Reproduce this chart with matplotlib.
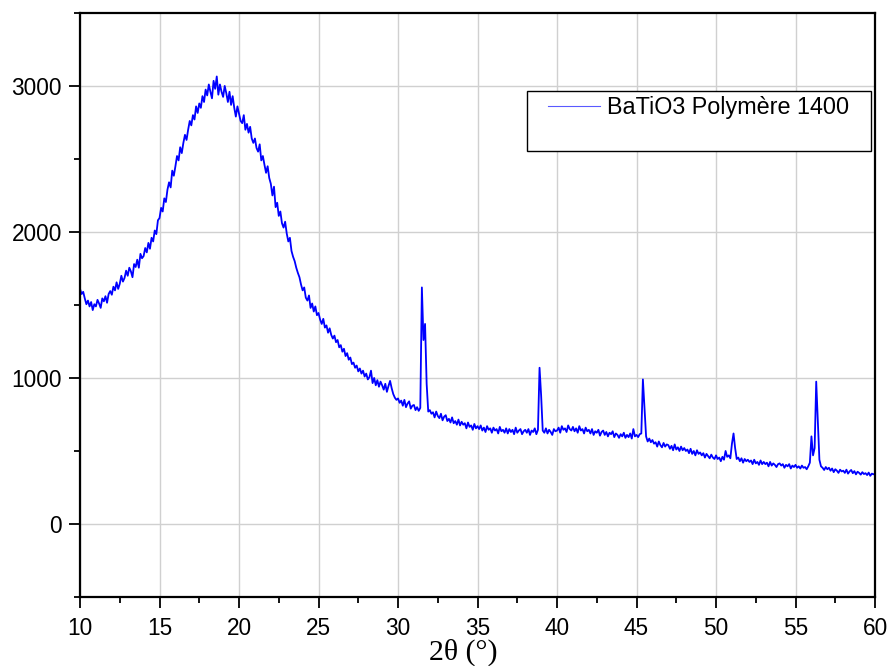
import numpy as np
import matplotlib.pyplot as plt
from matplotlib.patches import Rectangle
from matplotlib.ticker import MultipleLocator

# 2theta scan grid, 10 -> 60 deg, step 0.1
two_theta = np.round(np.arange(100, 601) / 10.0, 1)

# intensity, one row per degree (x.0 ... x.9)
counts_10_19 = [
    1610, 1575, 1590, 1545, 1505, 1530, 1490, 1520, 1465, 1505,
    1490, 1535, 1510, 1480, 1545, 1525, 1560, 1515, 1575, 1595,
    1570, 1625, 1600, 1655, 1610, 1645, 1700, 1660, 1685, 1735,
    1700, 1755, 1730, 1690, 1780, 1760, 1810, 1755, 1850, 1820,
    1835, 1890, 1860, 1925, 1885, 1960, 1935, 2010, 1985, 2080,
    2095, 2165, 2140, 2230, 2205, 2290, 2340, 2305, 2420, 2385,
    2450, 2520, 2490, 2580, 2540, 2610, 2665, 2630, 2700, 2760,
    2730, 2800, 2770, 2860, 2815, 2880, 2850, 2930, 2890, 2975,
    2935, 3010, 2960, 2915, 3035, 2980, 3065, 2940, 3010, 2960,
    2925, 3000, 2950, 2890, 2960, 2870, 2930, 2850, 2790, 2860,
]
counts_20_29 = [
    2810, 2760, 2745, 2800, 2700, 2740, 2680, 2720, 2640, 2610,
    2640, 2575, 2550, 2600, 2490, 2520, 2460, 2405, 2450, 2370,
    2330, 2250, 2310, 2170, 2200, 2110, 2140, 2060, 2030, 2070,
    1990, 1935, 1960, 1870, 1830, 1800, 1755, 1720, 1690, 1640,
    1600, 1620, 1550, 1530, 1565, 1480, 1510, 1455, 1490, 1430,
    1445, 1400, 1370, 1405, 1345, 1360, 1310, 1340, 1295, 1270,
    1290, 1245, 1260, 1210, 1225, 1180, 1200, 1150, 1170, 1125,
    1140, 1095, 1105, 1070, 1085, 1045, 1065, 1030, 1050, 1010,
    1030, 990, 1005, 1050, 965, 1000, 950, 985, 940, 975,
    950, 920, 960, 905, 945, 980, 930, 890, 865, 850,
]
counts_30_39 = [
    860, 830, 845, 810, 850, 800, 825, 840, 790, 810,
    815, 780, 800, 775, 795, 1620, 1260, 1370, 960, 770,
    780, 755, 765, 730, 770, 740, 725, 755, 710, 735,
    745, 705, 720, 695, 730, 690, 705, 680, 715, 675,
    700, 680, 690, 655, 695, 665, 675, 645, 685, 655,
    670, 650, 675, 640, 660, 630, 670, 645, 655, 625,
    660, 640, 650, 620, 665, 635, 645, 625, 655, 620,
    650, 630, 645, 615, 660, 625, 640, 650, 615, 635,
    645, 625, 650, 610, 640, 630, 655, 615, 645, 1070,
    880, 640, 625, 655, 620, 645, 630, 610, 650, 635,
]
counts_40_49 = [
    640, 660, 625, 670, 645, 655, 630, 675, 650, 640,
    665, 635, 655, 625, 670, 640, 650, 620, 660, 635,
    645, 620, 650, 610, 635, 625, 645, 605, 630, 640,
    610, 630, 600, 625, 615, 635, 595, 620, 610, 590,
    615, 600, 625, 590, 610, 595, 620, 585, 650, 600,
    610, 595, 615, 620, 990, 800, 600, 565, 585, 560,
    575, 550, 560, 530, 565, 540, 525, 555, 530, 545,
    540, 515, 535, 505, 545, 510, 525, 500, 530, 505,
    520, 500, 510, 485, 515, 480, 500, 470, 505, 480,
    490, 470, 485, 455, 480, 465, 450, 475, 455, 445,
]
counts_50_60 = [
    470, 445, 455, 430, 460, 440, 500, 460, 470, 450,
    550, 620, 520, 445, 455, 430, 450, 420, 445, 430,
    440, 425, 435, 410, 440, 415, 425, 405, 435, 410,
    425, 410, 420, 395, 425, 400, 415, 405, 390, 410,
    415, 400, 410, 385, 405, 395, 410, 380, 400, 390,
    405, 385, 395, 380, 400, 385, 390, 375, 395, 420,
    600, 470, 520, 975, 710, 440, 395, 385, 370, 390,
    375, 385, 365, 380, 355, 375, 365, 350, 372, 360,
    365, 350, 372, 345, 360, 370, 348, 362, 340, 358,
    350, 338, 355, 342, 348, 335, 352, 330, 345, 340,
    345,
]
intensity = np.array(counts_10_19 + counts_20_29 + counts_30_39
                     + counts_40_49 + counts_50_60)

label = 'BaTiO3 Polymère 1400'

plt.rcParams['font.family'] = ['Liberation Sans', 'DejaVu Sans']

fig = plt.figure(figsize=(8.91, 6.66), dpi=100)
ax = fig.add_axes([0.0898, 0.1036, 0.8923, 0.877])

line, = ax.plot(two_theta, intensity, color='#0000ff', linewidth=1.3)

ax.set_xlim(10, 60)
ax.set_ylim(-500, 3500)
ax.xaxis.set_major_locator(MultipleLocator(5))
ax.xaxis.set_minor_locator(MultipleLocator(2.5))
ax.yaxis.set_major_locator(MultipleLocator(1000))
ax.yaxis.set_minor_locator(MultipleLocator(500))
ax.grid(True, which='major', color='#d0d0d0', linewidth=1.0)
ax.set_axisbelow(True)

for s in ax.spines.values():
    s.set_linewidth(1.6)
ax.tick_params(which='major', direction='out', length=8, width=1.3,
               labelsize=16.3, pad=5)
ax.tick_params(axis='x', which='major', pad=6.5)
ax.tick_params(which='minor', direction='out', length=4, width=1.3)

ax.set_xlabel('2θ (°)', family=['Liberation Serif', 'DejaVu Serif'],
              fontsize=21.5)
ax.xaxis.set_label_coords(0.482, -0.071)

# legend box (Origin style, taller than its one entry)
ax.add_patch(Rectangle((0.5623, 0.7637), 0.4327, 0.1027,
                       transform=ax.transAxes, facecolor='white',
                       edgecolor='black', linewidth=1.0, zorder=4))
leg = ax.legend([line], [label], loc='center left',
                bbox_to_anchor=(0.5887, 0.8385), frameon=False,
                fontsize=16.8, handlelength=2.23, handletextpad=0.3,
                borderpad=0, borderaxespad=0)
leg.set_zorder(5)
leg.get_lines()[0].set_linewidth(0.8)
leg.get_lines()[0].set_alpha(0.65)

fig.savefig('out.png', dpi=100)
